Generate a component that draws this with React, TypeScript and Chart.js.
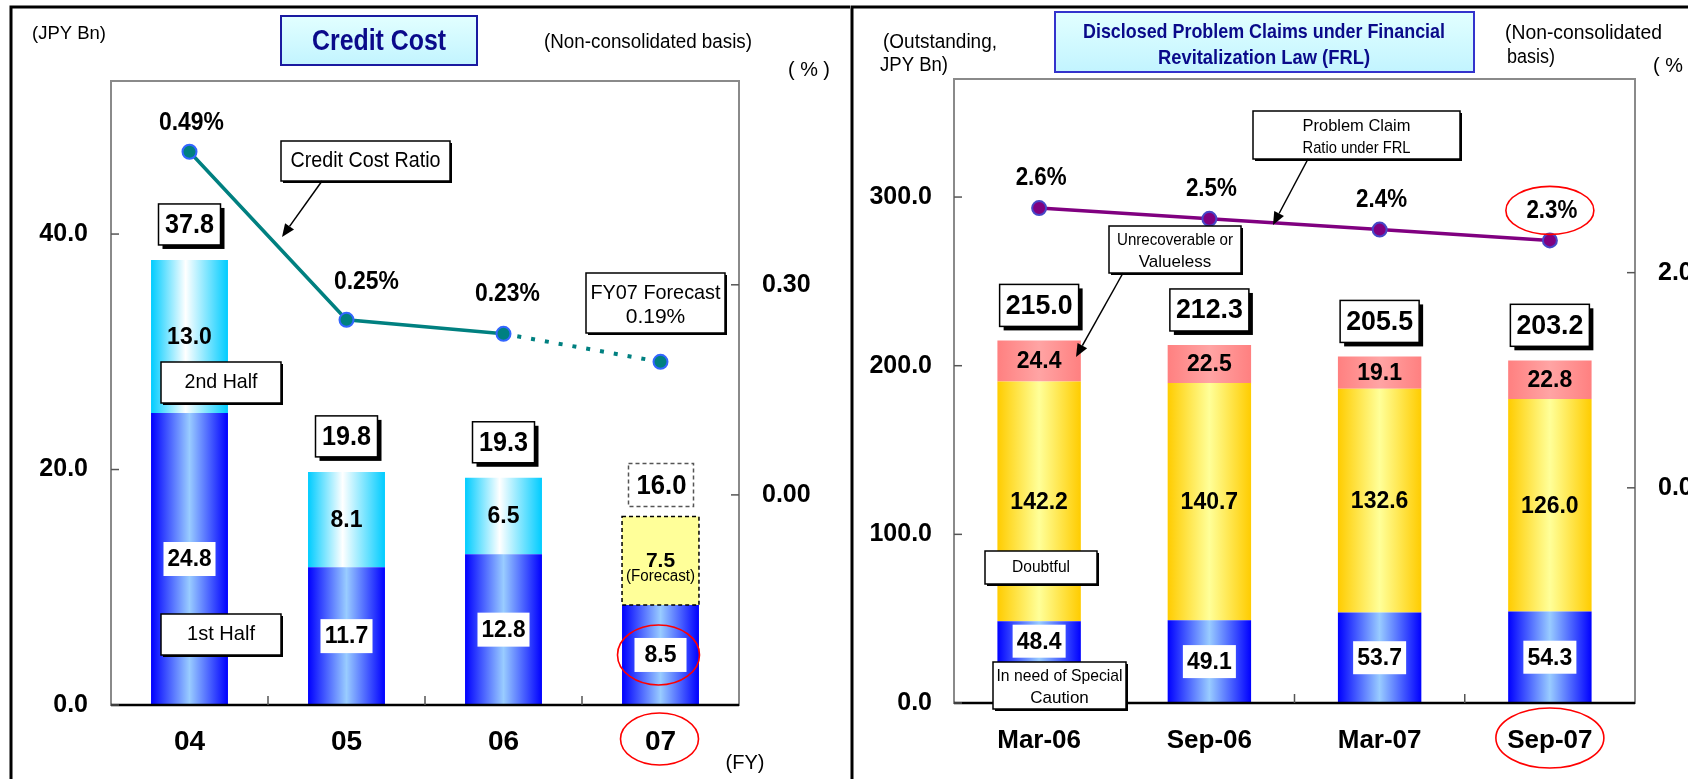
import React, { useEffect, useRef } from 'react';
import { Chart, registerables } from 'chart.js';

Chart.register(...registerables);

const FONT = "'Liberation Sans', Arial, Helvetica, sans-serif";
const BAR_PCT = 0.49;

// ---- Credit cost (JPY Bn) and credit cost ratio (%) ----
const fiscalYears = ['04', '05', '06', '07'];
const firstHalfCost = [24.8, 11.7, 12.8, 8.5];
const secondHalfCost = [13.0, 8.1, 6.5, null];
const secondHalfForecast = [null, null, null, 7.5];
const creditCostTotals = [37.8, 19.8, 19.3, 16.0];
const creditCostRatio = [0.49, 0.25, 0.23, 0.19];
const creditCostTicks = [0, 20, 40];
const creditRatioTicks = [0, 0.3];
const CREDIT_MAX = 53;
const CREDIT_RATIO_MIN = -0.3;
const CREDIT_RATIO_MAX = 0.591;

// ---- Disclosed problem claims under FRL (JPY Bn) and ratio (%) ----
const claimDates = ['Mar-06', 'Sep-06', 'Mar-07', 'Sep-07'];
const specialCaution = [48.4, 49.1, 53.7, 54.3];
const doubtful = [142.2, 140.7, 132.6, 126.0];
const unrecoverable = [24.4, 22.5, 19.1, 22.8];
const claimTotals = [215.0, 212.3, 205.5, 203.2];
const problemClaimRatio = [2.6, 2.5, 2.4, 2.3];
const claimTicks = [0, 100, 200, 300];
const claimRatioTicks = [0, 2];
const CLAIM_MAX = 370;
const CLAIM_RATIO_MIN = -2;
const CLAIM_RATIO_MAX = 3.8;

const BLUE_STOPS = ['#0000ff', '#99ccff', '#0000ff'];
const CYAN_STOPS = ['#00ccff', '#ffffff', '#00ccff'];
const GOLD_STOPS = ['#ffcc00', '#ffff99', '#ffcc00'];
const PINK_STOPS = ['#ff8080', '#ffa4a4', '#ff8080'];

function barGradient(stops: string[], mid = 0.5) {
  return (c: any) => {
    const chart = c.chart;
    const xs = chart.scales && chart.scales.x;
    if (!xs || !chart.chartArea || c.dataIndex === undefined) return stops[1];
    const n = chart.data.labels.length;
    const cx = xs.getPixelForValue(c.dataIndex);
    const w = (xs.width / n) * BAR_PCT;
    if (!isFinite(cx) || !(w > 0)) return stops[1];
    const g = chart.ctx.createLinearGradient(cx - w / 2, 0, cx + w / 2, 0);
    g.addColorStop(0, stops[0]);
    g.addColorStop(mid, stops[1]);
    g.addColorStop(1, stops[2]);
    return g;
  };
}

function fixedTicks(values: number[]) {
  return (scale: any) => {
    scale.ticks = values.map((v) => ({ value: v }));
  };
}

type Ctx = CanvasRenderingContext2D;

function text(
  ctx: Ctx,
  s: string,
  x: number,
  y: number,
  size: number,
  o: { bold?: boolean; align?: CanvasTextAlign; color?: string; maxW?: number } = {}
) {
  ctx.save();
  ctx.font = `${o.bold ? 'bold ' : ''}${size}px ${FONT}`;
  ctx.fillStyle = o.color || '#000';
  ctx.textAlign = o.align || 'center';
  ctx.textBaseline = 'middle';
  if (o.maxW) ctx.fillText(s, x, y, o.maxW);
  else ctx.fillText(s, x, y);
  ctx.restore();
}

function rect(
  ctx: Ctx,
  x: number,
  y: number,
  w: number,
  h: number,
  o: { fill?: string | CanvasGradient; stroke?: string; lw?: number; shadow?: number; dash?: number[] } = {}
) {
  ctx.save();
  if (o.shadow) {
    ctx.fillStyle = '#000';
    ctx.fillRect(x + o.shadow, y + o.shadow, w, h);
  }
  if (o.fill) {
    ctx.fillStyle = o.fill;
    ctx.fillRect(x, y, w, h);
  }
  if (o.stroke) {
    ctx.strokeStyle = o.stroke;
    ctx.lineWidth = o.lw || 1.5;
    ctx.setLineDash(o.dash || []);
    ctx.strokeRect(x, y, w, h);
  }
  ctx.restore();
}

function arrow(ctx: Ctx, x1: number, y1: number, x2: number, y2: number) {
  const ang = Math.atan2(y2 - y1, x2 - x1);
  const head = 13;
  const half = 5.5;
  const bx = x2 - head * Math.cos(ang);
  const by = y2 - head * Math.sin(ang);
  ctx.save();
  ctx.strokeStyle = '#000';
  ctx.fillStyle = '#000';
  ctx.lineWidth = 1.5;
  ctx.beginPath();
  ctx.moveTo(x1, y1);
  ctx.lineTo(bx, by);
  ctx.stroke();
  ctx.beginPath();
  ctx.moveTo(x2, y2);
  ctx.lineTo(bx + half * Math.sin(ang), by - half * Math.cos(ang));
  ctx.lineTo(bx - half * Math.sin(ang), by + half * Math.cos(ang));
  ctx.closePath();
  ctx.fill();
  ctx.restore();
}

function ellipse(ctx: Ctx, cx: number, cy: number, rx: number, ry: number) {
  ctx.save();
  ctx.strokeStyle = '#ff0000';
  ctx.lineWidth = 1.6;
  ctx.beginPath();
  ctx.ellipse(cx, cy, rx, ry, 0, 0, Math.PI * 2);
  ctx.stroke();
  ctx.restore();
}

function callout(
  ctx: Ctx,
  x: number,
  y: number,
  w: number,
  h: number,
  lines: string[],
  size: number,
  maxW: number,
  gap = 22
) {
  rect(ctx, x, y, w, h, { fill: '#fff', stroke: '#000', lw: 1.5, shadow: 2 });
  const cy = y + h / 2 + (lines.length > 1 ? 2 : 0);
  lines.forEach((s, i) => {
    const ly = cy + (i - (lines.length - 1) / 2) * gap;
    text(ctx, s, x + w / 2, ly, size, { maxW });
  });
}

function titleBox(ctx: Ctx, x: number, y: number, w: number, h: number, border: string) {
  const g = ctx.createLinearGradient(0, y, 0, y + h);
  g.addColorStop(0, '#e2ffff');
  g.addColorStop(1, '#c2f4ff');
  rect(ctx, x, y, w, h, { fill: g, stroke: border, lw: 2 });
}

function line(ctx: Ctx, x1: number, y1: number, x2: number, y2: number) {
  ctx.beginPath();
  ctx.moveTo(x1, y1);
  ctx.lineTo(x2, y2);
  ctx.stroke();
}

function drawPlotFrame(chart: any, leftTicks: number[], rightTicks: number[]) {
  const { ctx, chartArea: a, scales } = chart;
  ctx.save();
  ctx.setLineDash([]);
  ctx.strokeStyle = '#8a8a8a';
  ctx.lineWidth = 2;
  ctx.strokeRect(a.left, a.top, a.right - a.left, a.bottom - a.top);
  ctx.strokeStyle = '#000';
  ctx.lineWidth = 2.5;
  line(ctx, a.left, a.bottom, a.right, a.bottom);
  ctx.strokeStyle = '#555';
  ctx.lineWidth = 1.5;
  leftTicks.forEach((v) => {
    const y = scales.y.getPixelForValue(v);
    line(ctx, a.left, y, a.left + 8, y);
  });
  rightTicks.forEach((v) => {
    const y = scales.y1.getPixelForValue(v);
    line(ctx, a.right - 8, y, a.right, y);
  });
  const n = chart.data.labels.length;
  for (let i = 1; i < n; i++) {
    const x = (scales.x.getPixelForValue(i - 1) + scales.x.getPixelForValue(i)) / 2;
    line(ctx, x, a.bottom, x, a.bottom - 9);
  }
  ctx.restore();
}

function panelBorder(chart: any, left: number) {
  const ctx = chart.ctx;
  ctx.save();
  ctx.strokeStyle = '#000';
  ctx.lineWidth = 3;
  ctx.beginPath();
  ctx.moveTo(left, chart.height);
  ctx.lineTo(left, 7);
  ctx.lineTo(chart.width, 7);
  ctx.stroke();
  ctx.restore();
}

function segLabels(
  chart: any,
  dsIndex: number,
  values: (number | null)[],
  boxed: boolean,
  size: number,
  boxW: number,
  boxH: number,
  dyFor: (i: number) => number = () => 0
) {
  const ctx = chart.ctx;
  const meta = chart.getDatasetMeta(dsIndex);
  values.forEach((v, i) => {
    if (v == null) return;
    const bar = meta.data[i];
    const cx = bar.x;
    const cy = (bar.y + bar.base) / 2 + dyFor(i);
    if (boxed) rect(ctx, cx - boxW / 2, cy - boxH / 2, boxW, boxH, { fill: '#fff' });
    text(ctx, v.toFixed(1), cx, cy + 1, size, { bold: true, maxW: boxW ? boxW - 8 : undefined });
  });
}

// ---------------- Credit cost panel overlay ----------------
const creditOverlay = {
  id: 'creditOverlay',
  afterDatasetsDraw(chart: any) {
    drawPlotFrame(chart, creditCostTicks, creditRatioTicks);
    const ctx = chart.ctx;
    const meta = chart.getDatasetMeta(2);
    secondHalfForecast.forEach((v, i) => {
      if (v == null) return;
      const bar = meta.data[i];
      rect(ctx, bar.x - bar.width / 2, bar.y, bar.width, bar.base - bar.y, {
        stroke: '#000',
        lw: 1.5,
        dash: [4, 3],
      });
    });
  },
  afterDraw(chart: any) {
    const ctx = chart.ctx;
    const xs = chart.scales.x;
    const ys = chart.scales.y;
    panelBorder(chart, 11);

    text(ctx, '(JPY Bn)', 32, 34, 19, { align: 'left', maxW: 74 });
    titleBox(ctx, 281, 16, 196, 49, '#1a1aa0');
    text(ctx, 'Credit Cost', 379, 42, 29, { bold: true, color: '#0a0a8a', maxW: 134 });
    text(ctx, '(Non-consolidated basis)', 544, 42, 20, { align: 'left', maxW: 208 });
    text(ctx, '( % )', 809, 70, 20, { maxW: 42 });
    text(ctx, '(FY)', 745, 763, 20);

    // totals above each stacked bar
    creditCostTotals.forEach((t, i) => {
      const cx = xs.getPixelForValue(i);
      const top = ys.getPixelForValue(t);
      if (secondHalfForecast[i] != null) {
        const h = 43;
        rect(ctx, cx - 32, top - 10 - h, 65, h, { fill: '#fff', stroke: '#555', lw: 1.5, dash: [4, 3] });
        text(ctx, t.toFixed(1), cx + 1, top - 10 - h / 2 + 1, 27, { bold: true, maxW: 50 });
      } else {
        const h = 41;
        rect(ctx, cx - 31, top - 15 - h, 62, h, { fill: '#fff', stroke: '#000', lw: 1.5, shadow: 4 });
        text(ctx, t.toFixed(1), cx, top - 15 - h / 2 + 1, 27, { bold: true, maxW: 49 });
      }
    });

    segLabels(chart, 0, firstHalfCost, true, 23, 52, 34);
    segLabels(chart, 1, secondHalfCost, false, 23, 0, 0);
    const fMeta = chart.getDatasetMeta(2);
    secondHalfForecast.forEach((v, i) => {
      if (v == null) return;
      const bar = fMeta.data[i];
      const cy = (bar.y + bar.base) / 2;
      text(ctx, v.toFixed(1), bar.x, cy, 21, { bold: true });
      text(ctx, '(Forecast)', bar.x, cy + 16, 16, { maxW: 69 });
    });

    // ratio labels
    const pts = chart.getDatasetMeta(3).data;
    const offs = [
      [2, -29],
      [20, -38],
      [4, -40],
    ];
    offs.forEach(([dx, dy], i) => {
      text(ctx, `${creditCostRatio[i].toFixed(2)}%`, pts[i].x + dx, pts[i].y + dy, 25, { bold: true, maxW: 65 });
    });

    callout(ctx, 281, 141, 169, 40, ['Credit Cost Ratio'], 22, 150);
    arrow(ctx, 322, 181, 282, 237);
    callout(ctx, 586, 273, 139, 60, ['FY07 Forecast', `${creditCostRatio[3].toFixed(2)}%`], 21, 130, 24);
    callout(ctx, 161, 362, 120, 41, ['2nd Half'], 21, 73);
    callout(ctx, 161, 614, 120, 41, ['1st Half'], 21, 68);

    const last = fiscalYears.length - 1;
    const b = chart.getDatasetMeta(0).data[last];
    ellipse(ctx, xs.getPixelForValue(last) - 2, (b.y + b.base) / 2, 41, 30);
    ellipse(ctx, xs.getPixelForValue(last) - 1, 739, 39, 26);
  },
};

// ---------------- Problem claims panel overlay ----------------
const claimsOverlay = {
  id: 'claimsOverlay',
  afterDatasetsDraw(chart: any) {
    drawPlotFrame(chart, claimTicks, claimRatioTicks);
  },
  afterDraw(chart: any) {
    const ctx = chart.ctx;
    const xs = chart.scales.x;
    const ys = chart.scales.y;
    panelBorder(chart, 2);

    text(ctx, '(Outstanding,', 33, 42, 20, { align: 'left', maxW: 114 });
    text(ctx, 'JPY Bn)', 30, 65, 20, { align: 'left', maxW: 68 });
    titleBox(ctx, 205, 12, 419, 60, '#3333cc');
    text(ctx, 'Disclosed Problem Claims under Financial', 414, 32, 21, { bold: true, color: '#0a0a8a', maxW: 362 });
    text(ctx, 'Revitalization Law (FRL)', 414, 58, 21, { bold: true, color: '#0a0a8a', maxW: 212 });
    text(ctx, '(Non-consolidated', 655, 33, 20, { align: 'left', maxW: 157 });
    text(ctx, 'basis)', 657, 57, 20, { align: 'left', maxW: 48 });
    text(ctx, '( % )', 824, 66, 20, { maxW: 42 });

    claimTotals.forEach((t, i) => {
      const cx = xs.getPixelForValue(i);
      const top = ys.getPixelForValue(t);
      const h = 42;
      rect(ctx, cx - 39.5, top - 14 - h, 79, h, { fill: '#fff', stroke: '#000', lw: 1.5, shadow: 4 });
      text(ctx, t.toFixed(1), cx, top - 14 - h / 2 + 1, 27, { bold: true, maxW: 67 });
    });

    segLabels(chart, 0, specialCaution, true, 23, 53, 33, (i) => (i === 0 ? -21 : 0));
    segLabels(chart, 1, doubtful, false, 23, 0, 0);
    segLabels(chart, 2, unrecoverable, false, 23, 0, 0);

    const pts = chart.getDatasetMeta(3).data;
    problemClaimRatio.forEach((v, i) => {
      text(ctx, `${v.toFixed(1)}%`, pts[i].x + 2, pts[i].y - 30, 26, { bold: true, maxW: 51 });
    });

    callout(ctx, 403, 111, 207, 48, ['Problem Claim', 'Ratio under FRL'], 17, 108);
    arrow(ctx, 458, 159, 423, 225);
    callout(ctx, 259, 226, 132, 47, ['Unrecoverable or', 'Valueless'], 17, 116);
    arrow(ctx, 273, 273, 226, 357);
    callout(ctx, 135, 551, 112, 33, ['Doubtful'], 17, 58);
    callout(ctx, 143, 662, 133, 47, ['In need of Special', 'Caution'], 17, 126);

    const last = claimDates.length - 1;
    ellipse(ctx, pts[last].x, pts[last].y - 30, 44, 24);
    ellipse(ctx, xs.getPixelForValue(last), 738, 54, 30);
  },
};

function axisFont(size: number) {
  return { family: FONT, size, weight: 'bold' as const };
}

function hiddenGrid() {
  return { display: false, drawTicks: false };
}

function creditConfig(): any {
  const barBase = { type: 'bar', yAxisID: 'y', order: 1, borderWidth: 0, categoryPercentage: 1, barPercentage: BAR_PCT };
  return {
    data: {
      labels: fiscalYears,
      datasets: [
        { ...barBase, label: '1st Half', data: firstHalfCost, backgroundColor: barGradient(BLUE_STOPS) },
        { ...barBase, label: '2nd Half', data: secondHalfCost, backgroundColor: barGradient(CYAN_STOPS, 0.45) },
        { ...barBase, label: '2nd Half (Forecast)', data: secondHalfForecast, backgroundColor: '#ffff99' },
        {
          type: 'line',
          label: 'Credit Cost Ratio',
          data: creditCostRatio,
          yAxisID: 'y1',
          order: 0,
          borderColor: '#008080',
          borderWidth: 3.5,
          tension: 0,
          pointRadius: 7,
          pointBackgroundColor: '#008080',
          pointBorderColor: '#3366ff',
          pointBorderWidth: 2,
          segment: {
            borderDash: (s: any) => (s.p1DataIndex === 3 ? [4, 10] : undefined),
            borderWidth: (s: any) => (s.p1DataIndex === 3 ? 4 : undefined),
          },
        },
      ],
    },
    options: {
      responsive: false,
      maintainAspectRatio: false,
      animation: false,
      devicePixelRatio: 1,
      layout: { padding: { top: 81, left: 0, right: 0, bottom: 0 } },
      plugins: { legend: { display: false }, tooltip: { enabled: false } },
      scales: {
        x: {
          stacked: true,
          grid: hiddenGrid(),
          border: { display: false },
          ticks: { color: '#000', font: axisFont(28), padding: 20 },
          afterFit: (s: any) => {
            s.height = 74;
          },
        },
        y: {
          stacked: true,
          position: 'left',
          min: 0,
          max: CREDIT_MAX,
          grid: hiddenGrid(),
          border: { display: false },
          ticks: { color: '#000', font: axisFont(25), padding: 23, callback: (v: any) => Number(v).toFixed(1) },
          afterBuildTicks: fixedTicks(creditCostTicks),
          afterFit: (s: any) => {
            s.width = 111;
          },
        },
        y1: {
          position: 'right',
          min: CREDIT_RATIO_MIN,
          max: CREDIT_RATIO_MAX,
          grid: hiddenGrid(),
          border: { display: false },
          ticks: { color: '#000', font: axisFont(25), padding: 23, callback: (v: any) => Number(v).toFixed(2) },
          afterBuildTicks: fixedTicks(creditRatioTicks),
          afterFit: (s: any) => {
            s.width = 111;
          },
        },
      },
    },
    plugins: [creditOverlay],
  };
}

function claimsConfig(): any {
  const barBase = { type: 'bar', yAxisID: 'y', order: 1, borderWidth: 0, categoryPercentage: 1, barPercentage: BAR_PCT };
  return {
    data: {
      labels: claimDates,
      datasets: [
        { ...barBase, label: 'In need of Special Caution', data: specialCaution, backgroundColor: barGradient(BLUE_STOPS) },
        { ...barBase, label: 'Doubtful', data: doubtful, backgroundColor: barGradient(GOLD_STOPS) },
        { ...barBase, label: 'Unrecoverable or Valueless', data: unrecoverable, backgroundColor: barGradient(PINK_STOPS) },
        {
          type: 'line',
          label: 'Problem Claim Ratio under FRL',
          data: problemClaimRatio,
          yAxisID: 'y1',
          order: 0,
          borderColor: '#800080',
          borderWidth: 3.5,
          tension: 0,
          pointRadius: 7,
          pointBackgroundColor: '#800080',
          pointBorderColor: '#4646c8',
          pointBorderWidth: 2,
        },
      ],
    },
    options: {
      responsive: false,
      maintainAspectRatio: false,
      animation: false,
      devicePixelRatio: 1,
      layout: { padding: { top: 79, left: 0, right: 0, bottom: 0 } },
      plugins: { legend: { display: false }, tooltip: { enabled: false } },
      scales: {
        x: {
          stacked: true,
          grid: hiddenGrid(),
          border: { display: false },
          ticks: { color: '#000', font: axisFont(26), padding: 22 },
          afterFit: (s: any) => {
            s.height = 76;
          },
        },
        y: {
          stacked: true,
          position: 'left',
          min: 0,
          max: CLAIM_MAX,
          grid: hiddenGrid(),
          border: { display: false },
          ticks: { color: '#000', font: axisFont(25), padding: 22, callback: (v: any) => Number(v).toFixed(1) },
          afterBuildTicks: fixedTicks(claimTicks),
          afterFit: (s: any) => {
            s.width = 104;
          },
        },
        y1: {
          position: 'right',
          min: CLAIM_RATIO_MIN,
          max: CLAIM_RATIO_MAX,
          grid: hiddenGrid(),
          border: { display: false },
          ticks: { color: '#000', font: axisFont(25), padding: 23, callback: (v: any) => Number(v).toFixed(1) },
          afterBuildTicks: fixedTicks(claimRatioTicks),
          afterFit: (s: any) => {
            s.width = 53;
          },
        },
      },
    },
    plugins: [claimsOverlay],
  };
}

export default function App() {
  const creditRef = useRef<HTMLCanvasElement>(null);
  const claimsRef = useRef<HTMLCanvasElement>(null);

  useEffect(() => {
    Chart.defaults.font.family = FONT;
    const credit = new Chart(creditRef.current as HTMLCanvasElement, creditConfig());
    const claims = new Chart(claimsRef.current as HTMLCanvasElement, claimsConfig());
    return () => {
      credit.destroy();
      claims.destroy();
    };
  }, []);

  return (
    <div
      style={{
        position: 'absolute',
        left: 0,
        top: 0,
        width: 1688,
        height: 779,
        background: '#fff',
        overflow: 'hidden',
      }}
    >
      <canvas
        ref={creditRef}
        width={850}
        height={779}
        style={{ position: 'absolute', left: 0, top: 0, width: 850, height: 779, display: 'block' }}
      />
      <canvas
        ref={claimsRef}
        width={838}
        height={779}
        style={{ position: 'absolute', left: 850, top: 0, width: 838, height: 779, display: 'block' }}
      />
    </div>
  );
}
